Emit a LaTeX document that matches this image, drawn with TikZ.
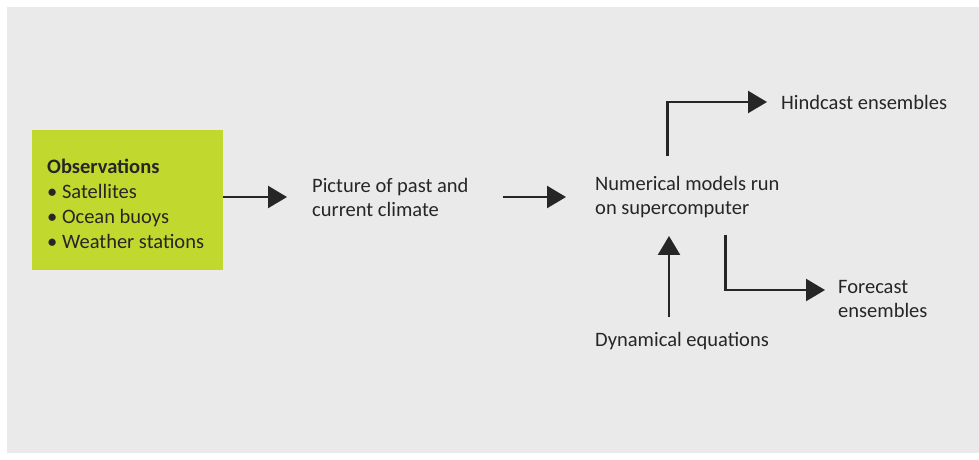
\documentclass[tikz,border=0pt]{standalone}
\usepackage{fontspec}
\setmainfont{Carlito}
\usetikzlibrary{arrows.meta,positioning,calc}
\definecolor{panelgrey}{HTML}{EAEAEA}
\definecolor{obsgreen}{HTML}{C1D82F}
\definecolor{inkgrey}{HTML}{262626}

\begin{document}
\begin{tikzpicture}[x=1pt, y=-1pt,
    every node/.style={font=\fontsize{20.5}{24}\selectfont, text=inkgrey, inner sep=0pt},
    label/.style={align=left, anchor=west},
    obsbox/.style={fill=obsgreen, minimum width=191pt, minimum height=140pt,
        anchor=north west},
    flow/.style={line width=2.4pt, draw=inkgrey, -{Triangle[length=19pt,width=22pt]}},
]
\useasboundingbox (0,0) rectangle (979,459);

% Background panel
\fill[panelgrey] (7,7) rectangle (979,453);

% Observations box
\node[obsbox] (obs) at (32,130) {};
\node[label, font=\fontsize{20.5}{25}\selectfont] (obslist) at ([xshift=15pt, yshift=-4pt]obs.west)
    {\textbf{Observations}\\• Satellites\\• Ocean buoys\\• Weather stations};

% Text blocks
\node[label] (pic) at (312,197) {Picture of past and\\current climate};
\node[label] (num) at (595,197) {Numerical models run\\on supercomputer};
\node[label] (hind) at (781,102) {Hindcast ensembles};
\node[label] (fore) at (838,299) {Forecast\\ensembles};
\node[label] (dyn) at (595,341) {Dynamical equations};

% Main flow
\draw[flow, shorten >=25pt] (obs.east |- pic.west) -- (pic.west);
\draw[flow, shorten <=34pt, shorten >=29pt] (pic.east) -- (num.west);

% Model outputs
\draw[flow, shorten <=20pt, shorten >=14pt] ([xshift=-20pt]num.north) |- (hind.west);
\draw[flow, shorten <=17pt, shorten >=13pt] ([xshift=38pt]num.south) |- ([yshift=9pt]fore.west);

% Equations feeding the model
\draw[flow, shorten <=15pt, shorten >=18pt] ([xshift=-13pt]dyn.north) -- ([xshift=-13pt]dyn.north |- num.south);

\end{tikzpicture}
\end{document}
